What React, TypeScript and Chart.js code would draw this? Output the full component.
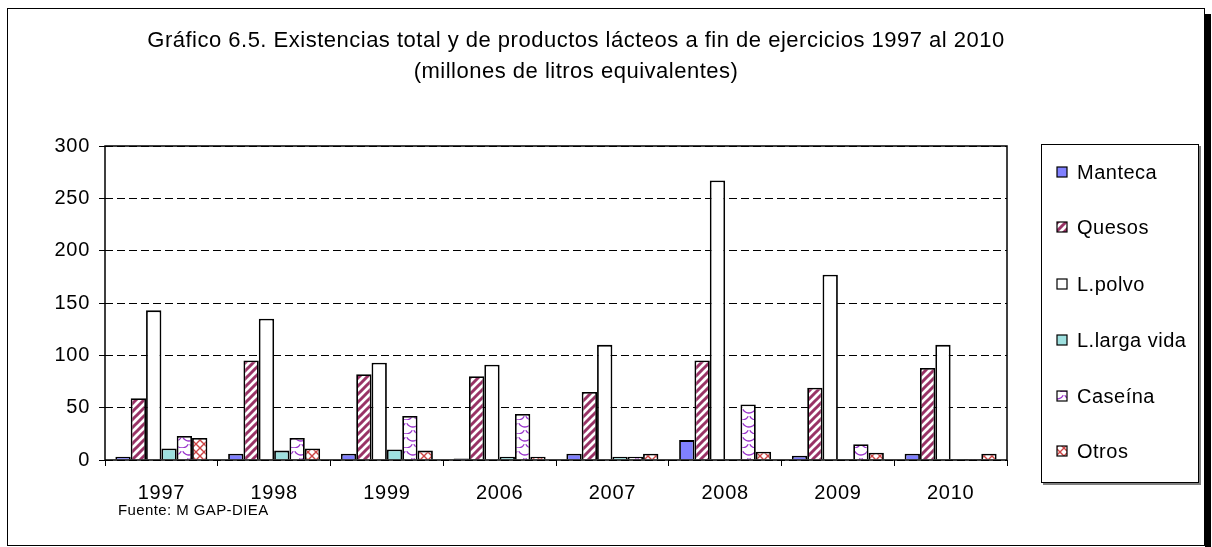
import React, { useEffect, useRef } from 'react';
import { Chart, registerables } from 'chart.js';

Chart.register(...registerables);

const categories = ['1997', '1998', '1999', '2006', '2007', '2008', '2009', '2010'];
const seriesNames = ['Manteca', 'Quesos', 'L.polvo', 'L.larga vida', 'Caseína', 'Otros'];
const manteca = [3, 6, 6, 1.5, 6, 19, 4, 6];
const quesos = [59, 95, 82, 80, 65, 95, 69, 88];
const lpolvo = [143, 135, 93, 91, 110, 267, 177, 110];
const llargaVida = [11, 9, 10, 3, 3, 1, 1, 1];
const caseina = [23, 21, 42, 44, 3, 53, 15, 1];
const otros = [21, 11, 9, 3, 6, 8, 7, 6];
const yMin = 0;
const yMax = 300;
const yStep = 50;
const titleLines = [
  'Gráfico 6.5. Existencias total y de productos lácteos a fin de ejercicios 1997 al 2010',
  '(millones de litros equivalentes)',
];
const sourceText = 'Fuente: M GAP-DIEA';

const FONT = '"Liberation Sans", Arial, sans-serif';

function makeTile(w: number, h: number, draw: (ctx: CanvasRenderingContext2D) => void): CanvasPattern | string {
  const c = document.createElement('canvas');
  c.width = w;
  c.height = h;
  const ctx = c.getContext('2d');
  if (!ctx) return '#ffffff';
  ctx.fillStyle = '#ffffff';
  ctx.fillRect(0, 0, w, h);
  draw(ctx);
  const p = ctx.createPattern(c, 'repeat');
  return p || '#ffffff';
}

function stripePattern() {
  return makeTile(8, 8, (ctx) => {
    ctx.strokeStyle = '#993366';
    ctx.lineWidth = 3;
    ctx.lineCap = 'square';
    ctx.beginPath();
    ctx.moveTo(-2, 10);
    ctx.lineTo(10, -2);
    ctx.moveTo(-6, 6);
    ctx.lineTo(6, -6);
    ctx.moveTo(2, 14);
    ctx.lineTo(14, 2);
    ctx.stroke();
  });
}

function wavePattern() {
  return makeTile(14, 14, (ctx) => {
    ctx.strokeStyle = '#9933CC';
    ctx.lineWidth = 1.3;
    ctx.beginPath();
    ctx.arc(7, 0, 7, 0.15 * Math.PI, 0.85 * Math.PI);
    ctx.stroke();
    ctx.beginPath();
    ctx.arc(0, 7, 7, 0.15 * Math.PI, 0.85 * Math.PI);
    ctx.stroke();
    ctx.beginPath();
    ctx.arc(14, 7, 7, 0.15 * Math.PI, 0.85 * Math.PI);
    ctx.stroke();
  });
}

function latticePattern() {
  return makeTile(8, 8, (ctx) => {
    ctx.strokeStyle = '#CC4444';
    ctx.lineWidth = 1.4;
    ctx.beginPath();
    ctx.moveTo(0, 0);
    ctx.lineTo(8, 8);
    ctx.moveTo(8, 0);
    ctx.lineTo(0, 8);
    ctx.stroke();
    ctx.fillStyle = '#CC4444';
    ctx.fillRect(3, 3, 2, 2);
  });
}

export default function App() {
  const ref = useRef<HTMLCanvasElement | null>(null);

  useEffect(() => {
    const canvas = ref.current;
    if (!canvas) return;
    const fills: any[] = ['#8080FF', stripePattern(), '#FFFFFF', '#9EE0DF', wavePattern(), latticePattern()];
    const values = [manteca, quesos, lpolvo, llargaVida, caseina, otros];

    const decor = {
      id: 'decor',
      beforeDraw(chart: any) {
        const ctx = chart.ctx;
        ctx.save();
        ctx.fillStyle = '#ffffff';
        ctx.fillRect(0, 0, chart.width, chart.height);
        ctx.restore();
        (ctx as any).letterSpacing = '0.7px';
      },
      afterDraw(chart: any) {
        const ctx = chart.ctx as CanvasRenderingContext2D;
        const a = chart.chartArea;
        ctx.save();
        // plot frame
        ctx.strokeStyle = '#000';
        ctx.lineWidth = 1.5;
        ctx.setLineDash([]);
        ctx.strokeRect(a.left, a.top, a.right - a.left, a.bottom - a.top);
        // outer frame
        ctx.lineWidth = 1;
        ctx.strokeRect(7.5, 8.5, 1197, 537);
        ctx.fillStyle = '#000';
        ctx.fillRect(1205, 14, 6, 533);
        // title
        ctx.fillStyle = '#000';
        (ctx as any).letterSpacing = '0.5px';
        ctx.font = `22px ${FONT}`;
        ctx.textAlign = 'center';
        ctx.textBaseline = 'middle';
        ctx.fillText(titleLines[0], 576, 41);
        ctx.fillText(titleLines[1], 576, 72);
        // source
        (ctx as any).letterSpacing = '0.4px';
        ctx.font = `15px ${FONT}`;
        ctx.textAlign = 'left';
        ctx.fillText(sourceText, 118, 511);
        // legend box
        ctx.fillStyle = '#808080';
        ctx.fillRect(1199, 146, 2, 339);
        ctx.fillRect(1043, 483, 158, 2);
        ctx.fillStyle = '#ffffff';
        ctx.fillRect(1041, 144, 158, 339);
        ctx.strokeStyle = '#000';
        ctx.lineWidth = 1;
        ctx.strokeRect(1041.5, 144.5, 157, 338);
        const ys = [172, 227, 284, 340, 396, 451];
        (ctx as any).letterSpacing = '0.5px';
        ctx.font = `20px ${FONT}`;
        ctx.textBaseline = 'middle';
        chart.data.datasets.forEach((ds: any, i: number) => {
          const cy = ys[i];
          ctx.fillStyle = ds.backgroundColor;
          ctx.fillRect(1057, cy - 5, 10, 10);
          ctx.strokeStyle = '#000';
          ctx.lineWidth = 1.2;
          ctx.strokeRect(1057, cy - 5, 10, 10);
          ctx.fillStyle = '#000';
          ctx.fillText(ds.label, 1077, cy + 1);
        });
        ctx.restore();
      },
    };

    const chart = new Chart(canvas, {
      type: 'bar',
      data: {
        labels: categories,
        datasets: seriesNames.map((name, i) => ({
          label: name,
          data: values[i],
          backgroundColor: fills[i],
          borderColor: '#000000',
          borderWidth: 1.8,
          categoryPercentage: 0.816,
          barPercentage: 1.0,
        })),
      },
      options: {
        responsive: false,
        animation: false,
        devicePixelRatio: 1,
        layout: { padding: { left: 0, right: 205, top: 146, bottom: 0 } },
        plugins: {
          legend: { display: false },
          title: { display: false },
          tooltip: { enabled: false },
        },
        scales: {
          x: {
            type: 'category',
            offset: true,
            grid: {
              offset: true,
              drawOnChartArea: false,
              drawTicks: true,
              tickLength: 6,
              color: '#000',
              tickColor: '#000',
              lineWidth: 1,
            },
            border: { display: false },
            ticks: {
              color: '#000',
              font: { family: FONT, size: 20 },
              padding: 15,
              maxRotation: 0,
            },
            afterFit: (s: any) => {
              s.height = 87;
            },
          },
          y: {
            min: yMin,
            max: yMax,
            ticks: {
              stepSize: yStep,
              color: '#000',
              font: { family: FONT, size: 20 },
              padding: 9,
            },
            grid: {
              color: '#000',
              lineWidth: 1,
              tickLength: 6,
              tickColor: '#000',
              tickBorderDash: [],
            },
            border: { display: false, dash: [8, 4] },
            afterFit: (s: any) => {
              s.width = 105;
            },
          },
        },
      },
      plugins: [decor],
    } as any);

    return () => chart.destroy();
  }, []);

  return (
    <div style={{ position: 'fixed', left: 0, top: 0, width: 1212, height: 547, background: '#fff' }}>
      <canvas ref={ref} width={1212} height={547} style={{ display: 'block', width: 1212, height: 547 }} />
    </div>
  );
}
